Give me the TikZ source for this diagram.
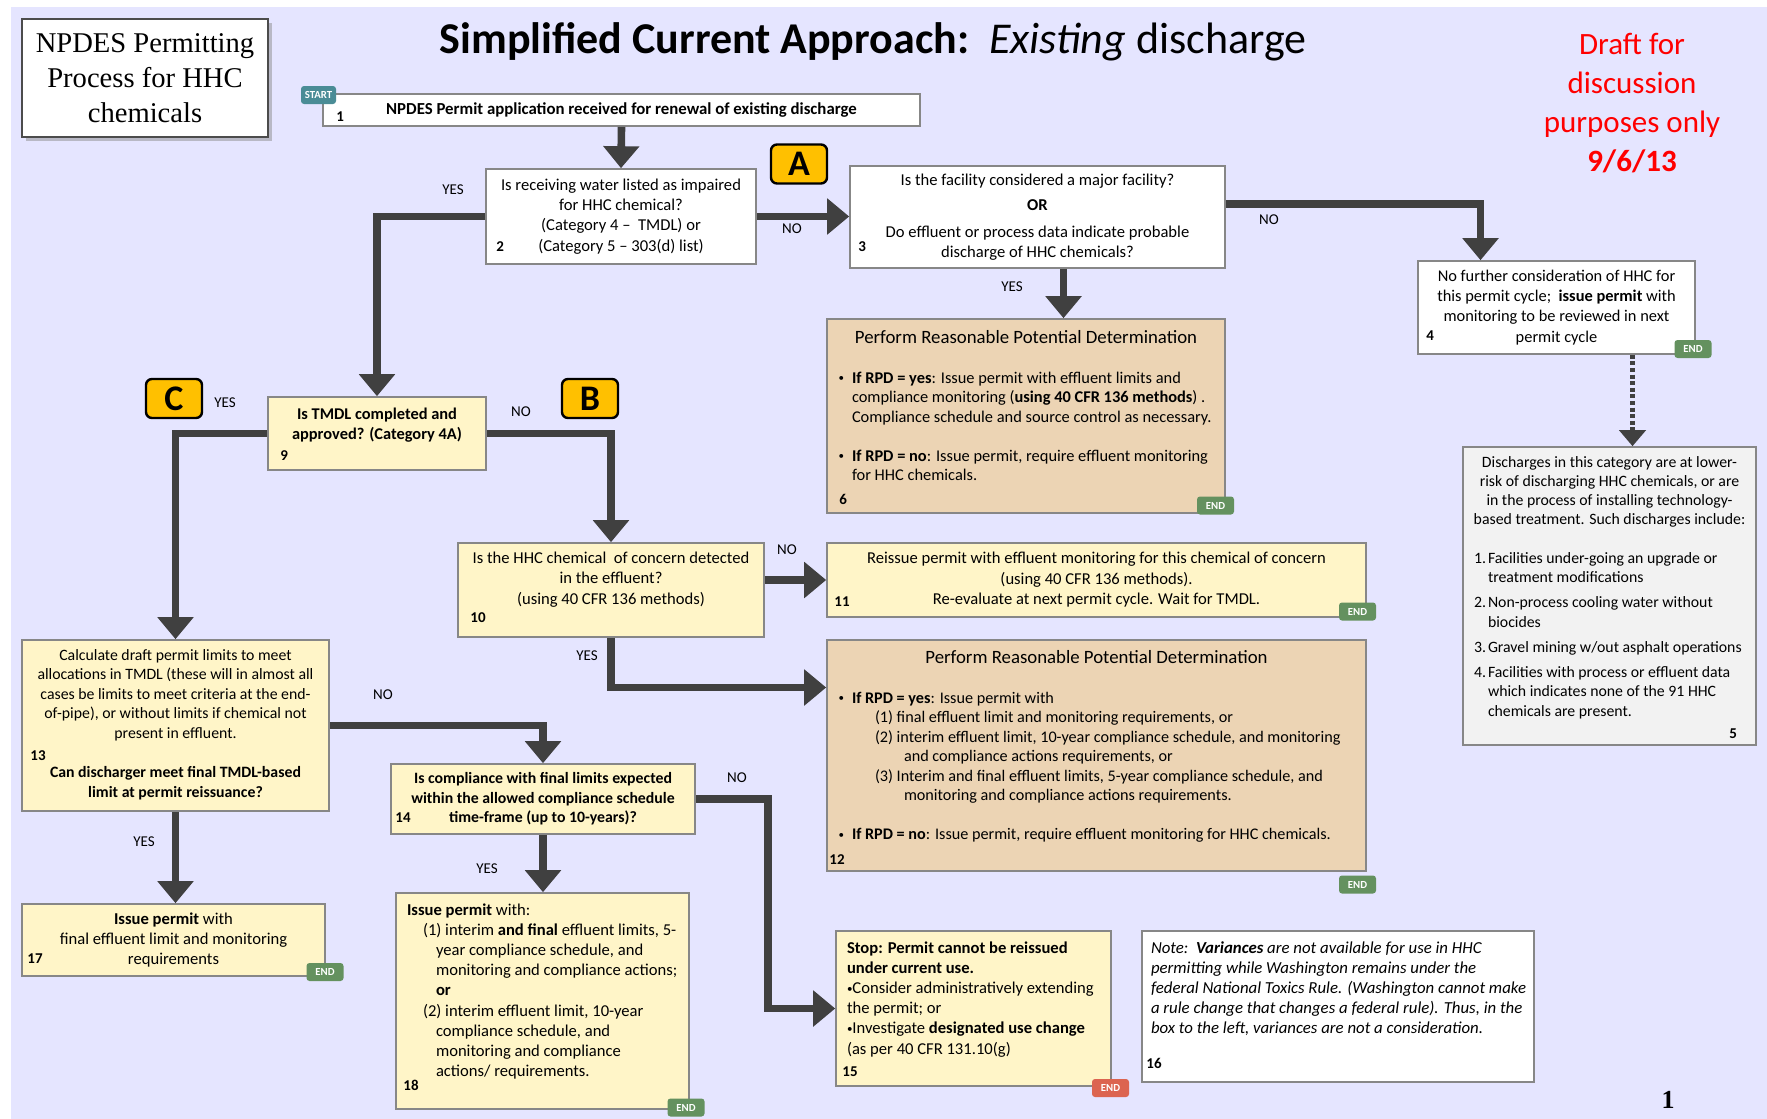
\documentclass[tikz,border=0pt]{standalone}
\usepackage{fontspec}
\setmainfont{Carlito}
\newfontfamily\titleserif{Liberation Serif}
\usetikzlibrary{arrows.meta, positioning, calc, shadows}

\definecolor{slidebg}{RGB}{229,229,255}
\definecolor{boxline}{RGB}{135,135,135}
\definecolor{paleyellow}{RGB}{255,245,200}
\definecolor{rpdtan}{RGB}{236,212,180}
\definecolor{notegrey}{RGB}{242,242,242}
\definecolor{flowgrey}{RGB}{64,64,64}
\definecolor{badgegold}{RGB}{255,192,0}
\definecolor{startteal}{RGB}{74,140,150}
\definecolor{endgreen}{RGB}{100,145,95}
\definecolor{endred}{RGB}{220,100,80}
\definecolor{draftred}{RGB}{255,0,0}

% box text: width, height, first baseline, content
\newcommand{\boxbody}[4]{\parbox[c][#2][t]{#1}{\rule{0pt}{#3}#4}}
% hanging marker in front of a list line
\newcommand{\marker}[1]{\noindent\llap{#1}}
% small bullet as on the slide
\newcommand{\dotmark}{\raisebox{0.6pt}{\fontsize{5.5}{5.5}\selectfont\textbullet}}

\begin{document}
\begin{tikzpicture}[
    x=0.5pt, y=-0.5pt,
    box/.style={draw=boxline, line width=0.8pt, inner sep=0pt},
    whitebox/.style={box, fill=white},
    yellowbox/.style={box, fill=paleyellow},
    tanbox/.style={box, fill=rpdtan},
    greybox/.style={box, fill=notegrey},
    titlebox/.style={draw=black!70, line width=1pt, fill=white, inner sep=0pt, align=center,
        minimum width=123pt, minimum height=59pt,
        drop shadow={shadow xshift=2pt, shadow yshift=-2pt, fill=black!45},
        font=\titleserif\fontsize{14.3}{17.5}\selectfont},
    flow/.style={draw=flowgrey, line width=3.8pt, -{Triangle[width=17.5pt,length=11pt]}},
    dottedflow/.style={draw=flowgrey, line width=2.2pt, dash pattern=on 2pt off 1.3pt,
        -{Triangle[width=13pt,length=8pt]}},
    badge/.style={draw=black, line width=1.2pt, fill=badgegold, rounded corners=3pt,
        minimum width=28pt, minimum height=19.5pt, inner sep=0pt,
        font=\bfseries\fontsize{18}{18}\selectfont},
    tag/.style={rounded corners=1.5pt, inner sep=0pt, minimum height=9pt, text=white,
        font=\bfseries\fontsize{5.4}{6}\selectfont},
    starttag/.style={tag, fill=startteal, minimum width=17.5pt},
    endtag/.style={tag, fill=endgreen, minimum width=18.5pt},
    stoptag/.style={tag, fill=endred, minimum width=18.5pt},
    num/.style={anchor=base west, inner sep=0pt, font=\bfseries\fontsize{7.5}{8}\selectfont},
    answer/.style={inner sep=0pt, font=\fontsize{7.5}{8}\selectfont}
]
    \useasboundingbox (0,0) rectangle (1767,1119);

    % Slide background
    \fill[white] (0,0) rectangle (1767,1119);
    \fill[slidebg] (11,7) rectangle (1767,1119);

    % Headings
    \node[titlebox] (topic) at (145,78) {NPDES Permitting\\Process for HHC\\chemicals};
    \node[anchor=base, font=\bfseries\fontsize{22}{26}\selectfont] (heading) at (873,54)
        {Simplified Current Approach:\ \ \textnormal{\textit{Existing} discharge}};
    \node[align=center, text=draftred, font=\fontsize{15.5}{19.5}\selectfont] (draft) at (1632,103)
        {Draft for\\discussion\\purposes only\\\textbf{9/6/13}};
    \node[font=\titleserif\bfseries\fontsize{13}{13}\selectfont] (pageno) at (1668,1100) {1};

    % Boxes
    \node[whitebox, minimum width=298.5pt, minimum height=16pt,
        font=\bfseries\fontsize{8.4}{10}\selectfont] (b1) at (621.5,110)
        {NPDES Permit application received for renewal of existing discharge};

    \node[whitebox, align=center, minimum width=135pt, minimum height=47.5pt,
        font=\fontsize{8.3}{10.1}\selectfont] (b2) at (621,216.5)
        {Is receiving water listed as impaired\\for HHC chemical?\\(Category 4 --\ \ TMDL) or\\(Category 5 -- 303(d) list)};

    \node[whitebox, align=center, minimum width=187.5pt, minimum height=51pt,
        font=\fontsize{8.3}{10}\selectfont] (b3) at (1037.5,217)
        {Is the facility considered a major facility?\\[2.5pt]\textbf{OR}\\[3.5pt]Do effluent or process data indicate probable\\discharge of HHC chemicals?};

    \node[whitebox, align=center, minimum width=138.5pt, minimum height=46.5pt,
        font=\fontsize{8.2}{10.1}\selectfont] (b4) at (1556.5,307.5)
        {No further consideration of HHC for\\this permit cycle;\ \ \textbf{issue permit} with\\monitoring to be reviewed in next\\permit cycle};

    \node[greybox, font=\fontsize{7.9}{9.65}\selectfont] (b5) at (1609.5,596)
        {\boxbody{146.5pt}{149pt}{10pt}{%
        {\centering Discharges in this category are at lower-\\risk of discharging HHC chemicals, or are\\in the process of installing technology-\\based treatment. Such discharges include:\par}
        \vspace{9.65pt}
        \raggedright\leftskip=12.5pt
        \marker{\makebox[7pt][l]{1.}}Facilities under-going an upgrade or\\treatment modifications\par
        \vspace{2.9pt}
        \marker{\makebox[7pt][l]{2.}}Non-process cooling water without\\biocides\par
        \vspace{2.9pt}
        \marker{\makebox[7pt][l]{3.}}Gravel mining w/out asphalt operations\par
        \vspace{2.9pt}
        \marker{\makebox[7pt][l]{4.}}Facilities with process or effluent data\\which indicates none of the 91 HHC\\chemicals are present.\par}};

    \node[tanbox, font=\fontsize{8.2}{9.75}\selectfont] (b6) at (1026,416)
        {\boxbody{199pt}{97pt}{12pt}{%
        {\centering\fontsize{9.4}{11}\selectfont Perform Reasonable Potential Determination\par}
        \vspace{10.25pt}
        \raggedright\leftskip=12.5pt
        \marker{\dotmark\hspace{4pt}}\textbf{If RPD = yes}: Issue permit with effluent limits and\\compliance monitoring (\textbf{using 40 CFR 136 methods}) .\\Compliance schedule and source control as necessary.\par
        \vspace{9.75pt}
        \marker{\dotmark\hspace{4pt}}\textbf{If RPD = no}: Issue permit, require effluent monitoring\\for HHC chemicals.\par}};

    \node[yellowbox, font=\bfseries\fontsize{8.2}{10}\selectfont] (b9) at (377,433.5)
        {\boxbody{109pt}{36.5pt}{11pt}{\centering Is TMDL completed and\\approved? (Category 4A)}};

    \node[yellowbox, font=\fontsize{8.3}{10.25}\selectfont] (b10) at (611,590)
        {\boxbody{153pt}{47pt}{10pt}{\centering Is the HHC chemical\ \ of concern detected\\in the effluent?\\(using 40 CFR 136 methods)}};

    \node[yellowbox, align=center, minimum width=269.5pt, minimum height=37pt,
        font=\fontsize{8.3}{10.25}\selectfont] (b11) at (1096.5,580)
        {Reissue permit with effluent monitoring for this chemical of concern\\(using 40 CFR 136 methods).\\Re-evaluate at next permit cycle. Wait for TMDL.};

    \node[tanbox, font=\fontsize{8.1}{9.75}\selectfont] (b12) at (1096.5,755.5)
        {\boxbody{269.5pt}{115.5pt}{11.5pt}{%
        {\centering\fontsize{9.4}{11}\selectfont Perform Reasonable Potential Determination\par}
        \vspace{10.25pt}
        \raggedright\leftskip=12.5pt
        \marker{\dotmark\hspace{4pt}}\textbf{If RPD = yes}: Issue permit with\\
        \hspace*{11.5pt}(1) final effluent limit and monitoring requirements, or\\
        \hspace*{11.5pt}(2) interim effluent limit, 10-year compliance schedule, and monitoring\\
        \hspace*{26pt}and compliance actions requirements, or\\
        \hspace*{11.5pt}(3) Interim and final effluent limits, 5-year compliance schedule, and\\
        \hspace*{26pt}monitoring and compliance actions requirements.\par
        \vspace{9.75pt}
        \marker{\dotmark\hspace{4pt}}\textbf{If RPD = no}: Issue permit, require effluent monitoring for HHC chemicals.\par}};

    \node[yellowbox, font=\fontsize{7.9}{9.8}\selectfont] (b13) at (175.5,725.5)
        {\boxbody{153.5pt}{85.5pt}{10pt}{\centering Calculate draft permit limits to meet\\allocations in TMDL (these will in almost all\\cases be limits to meet criteria at the end-\\of-pipe), or without limits if chemical not\\present in effluent.\par
        \vspace{9.8pt}
        \textbf{Can discharger meet final TMDL-based\\limit at permit reissuance?}\par}};

    \node[yellowbox, align=center, minimum width=152pt, minimum height=35pt,
        font=\bfseries\fontsize{7.9}{9.75}\selectfont] (b14) at (543,799)
        {Is compliance with final limits expected\\within the allowed compliance schedule\\time-frame (up to 10-years)?};

    \node[yellowbox, font=\fontsize{8.3}{10.1}\selectfont] (b15) at (973.5,1008.5)
        {\boxbody{137.5pt}{77.5pt}{11pt}{\raggedright\leftskip=5.5pt
        \textbf{Stop: Permit cannot be reissued\\under current use.}\\\dotmark Consider administratively extending\\the permit; or\\\dotmark Investigate \textbf{designated use change}\\(as per 40 CFR 131.10(g)}};

    \node[whitebox, font=\itshape\fontsize{8.4}{10.1}\selectfont] (b16) at (1338,1006.5)
        {\boxbody{196pt}{75.5pt}{11pt}{\raggedright\leftskip=4.5pt
        Note:\ \ \textbf{Variances} are not available for use in HHC\\permitting while Washington remains under the\\federal National Toxics Rule. (Washington cannot make\\a rule change that changes a federal rule). Thus, in the\\box to the left, variances are not a consideration.}};

    \node[yellowbox, align=center, minimum width=151.5pt, minimum height=36pt,
        font=\fontsize{8.3}{10.1}\selectfont] (b17) at (173.5,940)
        {\textbf{Issue permit} with\\final effluent limit and monitoring\\requirements};

    \node[yellowbox, font=\fontsize{8.3}{10.1}\selectfont] (b18) at (542.5,1001)
        {\boxbody{146.5pt}{108pt}{11pt}{\raggedright\leftskip=5.5pt
        \textbf{Issue permit} with:\\
        \hspace*{8pt}(1) interim \textbf{and final} effluent limits, 5-\\
        \hspace*{14.5pt}year compliance schedule, and\\
        \hspace*{14.5pt}monitoring and compliance actions;\\
        \hspace*{14.5pt}\textbf{or}\\
        \hspace*{8pt}(2) interim effluent limit, 10-year\\
        \hspace*{14.5pt}compliance schedule, and\\
        \hspace*{14.5pt}monitoring and compliance\\
        \hspace*{14.5pt}actions/ requirements.}};

    % Box numbers
    \node[num] (n1) at (336,121) {1};
    \node[num] (n2) at (496,251) {2};
    \node[num] (n3) at (858,251) {3};
    \node[num] (n4) at (1426,340) {4};
    \node[num] (n5) at (1729,738) {5};
    \node[num] (n6) at (839,504) {6};
    \node[num] (n9) at (280,460) {9};
    \node[num] (n10) at (470,622) {10};
    \node[num] (n11) at (834,606) {11};
    \node[num] (n12) at (829,864) {12};
    \node[num] (n13) at (30,760) {13};
    \node[num] (n14) at (395,822) {14};
    \node[num] (n15) at (842,1076) {15};
    \node[num] (n16) at (1146,1068) {16};
    \node[num] (n17) at (27,963) {17};
    \node[num] (n18) at (403,1090) {18};

    % Badges
    \node[badge] (badgeA) at (799,164) {A};
    \node[badge] (badgeB) at (590,398.5) {B};
    \node[badge] (badgeC) at (174,398.5) {C};

    % Start and end tags
    \node[starttag] (start) at (318.5,95) {START};
    \node[endtag] (end4) at (1693,349) {END};
    \node[endtag] (end6) at (1215.5,505.5) {END};
    \node[endtag] (end11) at (1357.5,611.5) {END};
    \node[endtag] (end12) at (1357.5,884.5) {END};
    \node[endtag] (end17) at (325,972) {END};
    \node[endtag] (end18) at (686,1107.5) {END};
    \node[stoptag] (end15) at (1110.5,1088) {END};

    % Connectors
    \draw[flow] (b1.south) -- (b2.north);
    \draw[flow] (b2.east) -- (b2.east -| b3.west);
    \draw[flow] (b2.west) -| (b9.north);
    \draw[flow] ([yshift=6.5pt]b3.east) -| ([xshift=-38pt]b4.north);
    \draw[flow] ([xshift=13pt]b3.south) -- ([xshift=13pt]b3.south |- b6.north);
    \draw[dottedflow] ([xshift=38pt]b4.south) -- ([xshift=38pt]b4.south |- b5.north);
    \draw[flow] (b9.east) -| (b10.north);
    \draw[flow] (b9.west) -| (b13.north);
    \draw[flow] (b10.east |- b11.west) -- (b11.west);
    \draw[flow] (b10.south) |- ([yshift=34pt]b12.west);
    \draw[flow] (b13.east) -| (b14.north);
    \draw[flow] (b13.south) -- (b13.south |- b17.north);
    \draw[flow] (b14.south) -- (b14.south |- b18.north);
    \draw[flow] (b14.east) -- ++(36pt,0) |- (b15.west);

    % Answers
    \node[answer] (yes2) at (453,190) {YES};
    \node[answer] (no2) at (792,229) {NO};
    \node[answer] (no3) at (1269,220) {NO};
    \node[answer] (yes3) at (1012,287) {YES};
    \node[answer] (yes9) at (225,403) {YES};
    \node[answer] (no9) at (521,412) {NO};
    \node[answer] (no10) at (787,550) {NO};
    \node[answer] (yes10) at (587,656) {YES};
    \node[answer] (no13) at (383,695) {NO};
    \node[answer] (yes13) at (144,842) {YES};
    \node[answer] (no14) at (737,778) {NO};
    \node[answer] (yes14) at (487,869) {YES};
\end{tikzpicture}
\end{document}
